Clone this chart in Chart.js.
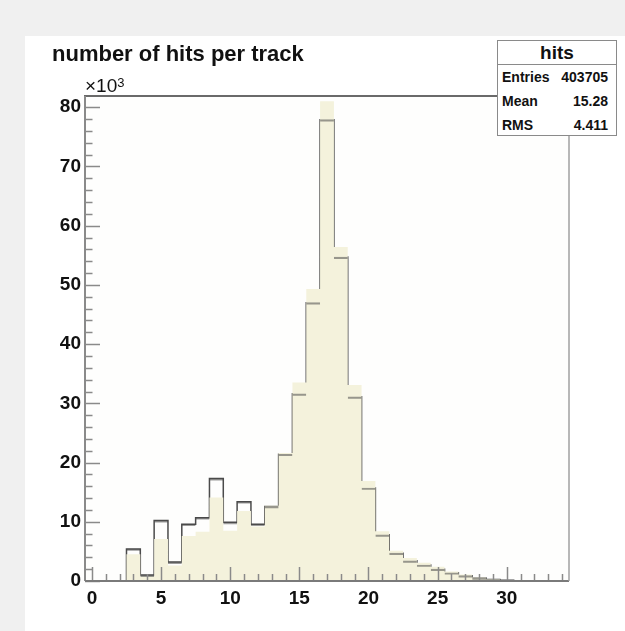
<!DOCTYPE html>
<html>
<head>
<meta charset="utf-8">
<script src="https://cdn.jsdelivr.net/npm/chart.js@4/dist/chart.umd.min.js"></script>
<style>
  html, body { margin:0; padding:0; width:625px; height:631px; overflow:hidden; background:#f0f0f0; font-family:"Liberation Sans", Arial, sans-serif; }
  #paper { position:absolute; left:25px; top:36px; width:600px; height:595px; background:#ffffff; }
  #wrap { position:absolute; left:0; top:0; width:625px; height:631px; }
  #title { position:absolute; left:52px; top:43px; font-weight:bold; font-size:22px; line-height:22px; color:#111; white-space:nowrap; }
  #mult { position:absolute; left:85px; top:76px; font-size:19px; line-height:19px; color:#111; white-space:nowrap; }
  #mult sup { font-size:13px; position:relative; top:-3px; vertical-align:top; }
  #stats { position:absolute; left:497px; top:40px; width:120px; height:96px; box-sizing:border-box; border:1px solid #8a8a8a; background:#fff; color:#111; }
  #stats .hd { height:23px; line-height:23px; border-bottom:1px solid #8a8a8a; text-align:center; font-weight:bold; font-size:19px; }
  #stats .row { height:24px; line-height:24px; font-weight:bold; font-size:14px; padding:0 8px 0 4px; display:flex; justify-content:space-between; }
</style>
</head>
<body>
<div id="paper"></div>
<div id="wrap"><canvas id="c"></canvas></div>
<div id="title">number of hits per track</div>
<div id="mult">×10<sup>3</sup></div>
<div id="stats">
  <div class="hd">hits</div>
  <div class="row"><span>Entries</span><span>403705</span></div>
  <div class="row"><span>Mean</span><span>15.28</span></div>
  <div class="row"><span>RMS</span><span>4.411</span></div>
</div>
<script>
// bin centres (number of hits)
const binCenters = [0,1,2,3,4,5,6,7,8,9,10,11,12,13,14,15,16,17,18,19,20,21,22,23,24,25,26,27,28,29,30,31,32,33,34];
// filled histogram "hits" (entries, in units of 10^3)
const hitsFilled = [0,0,0,4.5,0.8,7.1,2.6,7.6,8.3,14.1,8.5,11.8,9.2,12.7,21.6,33.5,49.3,81.0,56.4,33.1,16.9,8.4,5.1,3.9,3.1,2.4,1.6,1.1,0.6,0.3,0.15,0.06,0.03,0.01,0];
// outlined histogram (entries, in units of 10^3)
const hitsOutline = [0,0,0,5.4,1.0,10.2,3.2,9.6,10.7,17.3,9.9,13.4,9.6,12.6,21.4,31.6,47.0,77.9,54.7,31.1,15.7,7.8,4.7,3.4,2.7,2.0,1.4,0.9,0.5,0.25,0.12,0.05,0.02,0.01,0];
// axis tick labels
const xTickValues = [0,5,10,15,20,25,30];
const yTickValues = [0,10,20,30,40,50,60,70,80];

const X_MIN = -0.5, X_MAX = 34.5, Y_MIN = 0, Y_MAX = 81.9;

function stepPoints(vals){
  const pts = binCenters.map((c,i)=>({x:c-0.5, y:vals[i]}));
  const last = binCenters.length-1;
  pts.push({x:binCenters[last]+0.5, y:vals[last]});
  return pts;
}

const frameTicks = {
  id:'frameTicks',
  beforeDraw(chart){
    const {ctx, chartArea:a} = chart;
    ctx.save();
    ctx.fillStyle = '#fefefd';
    ctx.fillRect(a.left, a.top, a.right-a.left, a.bottom-a.top);
    ctx.restore();
  },
  afterDraw(chart){
    const {ctx, chartArea:a, scales:{x,y}} = chart;
    ctx.save();
    ctx.lineCap = 'butt';
    ctx.strokeStyle = '#8a8a8a';
    ctx.lineWidth = 1.5;
    ctx.beginPath();
    for (let v = Y_MIN; v <= Y_MAX + 1e-9; v += 2) {
      const py = Math.round(y.getPixelForValue(v)) + 0.5;
      const major = Math.abs(v/10 - Math.round(v/10)) < 1e-6;
      ctx.moveTo(a.left, py);
      ctx.lineTo(a.left + (major ? 15 : 7.5), py);
    }
    for (let v = 0; v <= X_MAX; v += 1) {
      const px = Math.round(x.getPixelForValue(v)) + 0.5;
      const major = v % 5 === 0;
      ctx.moveTo(px, a.bottom);
      ctx.lineTo(px, a.bottom - (major ? 14 : 7));
    }
    ctx.stroke();
    ctx.lineWidth = 2;
    ctx.strokeStyle = '#6a6a6a';
    ctx.beginPath(); ctx.moveTo(a.left-1, a.top); ctx.lineTo(a.right+1, a.top); ctx.stroke();
    ctx.strokeStyle = '#8a8a8a';
    ctx.beginPath(); ctx.moveTo(a.left, a.top); ctx.lineTo(a.left, a.bottom); ctx.stroke();
    ctx.strokeStyle = '#7a7a7a';
    ctx.beginPath(); ctx.moveTo(a.left, a.bottom); ctx.lineTo(a.right, a.bottom); ctx.stroke();
    ctx.strokeStyle = '#a0a0a0';
    ctx.lineWidth = 1.5;
    ctx.beginPath(); ctx.moveTo(a.right, a.top); ctx.lineTo(a.right, a.bottom); ctx.stroke();
    ctx.restore();
  }
};

new Chart(document.getElementById('c'), {
  type:'line',
  data:{
    datasets:[
      {
        // full step outline, drawn beneath the filled histogram
        label:'outline',
        data: stepPoints(hitsOutline),
        stepped:'before',
        fill:false,
        borderColor:'rgba(55,55,55,0.9)',
        borderWidth:1.5,
        pointRadius:0,
        order:3
      },
      {
        label:'hits',
        data: stepPoints(hitsFilled),
        stepped:'before',
        fill:'origin',
        backgroundColor:'#f4f2dc',
        borderColor:'rgba(0,0,0,0)',
        borderWidth:0,
        pointRadius:0,
        order:2
      },
      {
        // horizontal bin tops of the outline, visible through the fill
        type:'bar',
        label:'outline tops',
        data: binCenters.map((c,i)=>({x:c, y:hitsOutline[i]})),
        backgroundColor:'rgba(0,0,0,0)',
        borderColor:'rgba(75,75,75,0.55)',
        borderWidth:{top:1.5, right:0, bottom:0, left:0},
        borderSkipped:false,
        barPercentage:1,
        categoryPercentage:1,
        order:1
      }
    ]
  },
  options:{
    responsive:true,
    maintainAspectRatio:false,
    animation:false,
    devicePixelRatio:1,
    layout:{ padding:{ top:96, right:56, bottom:0, left:0 } },
    plugins:{ legend:{display:false}, tooltip:{enabled:false}, title:{display:false} },
    scales:{
      x:{
        type:'linear', min:X_MIN, max:X_MAX, offset:false,
        grid:{ display:false, drawTicks:false },
        border:{ display:false },
        afterBuildTicks(s){ s.ticks = xTickValues.map(v=>({value:v})); },
        afterFit(s){ s.height = 50; },
        ticks:{ padding:6, maxRotation:0, autoSkip:false, color:'#111',
          font:{ family:'"Liberation Sans", Arial, sans-serif', size:19, weight:'bold' } }
      },
      y:{
        type:'linear', min:Y_MIN, max:Y_MAX,
        grid:{ display:false, drawTicks:false },
        border:{ display:false },
        afterBuildTicks(s){ s.ticks = yTickValues.map(v=>({value:v})); },
        afterFit(s){ s.width = 85; },
        ticks:{ padding:4, autoSkip:false, color:'#111',
          font:{ family:'"Liberation Sans", Arial, sans-serif', size:19, weight:'bold' } }
      }
    }
  },
  plugins:[frameTicks]
});
</script>
</body>
</html>
